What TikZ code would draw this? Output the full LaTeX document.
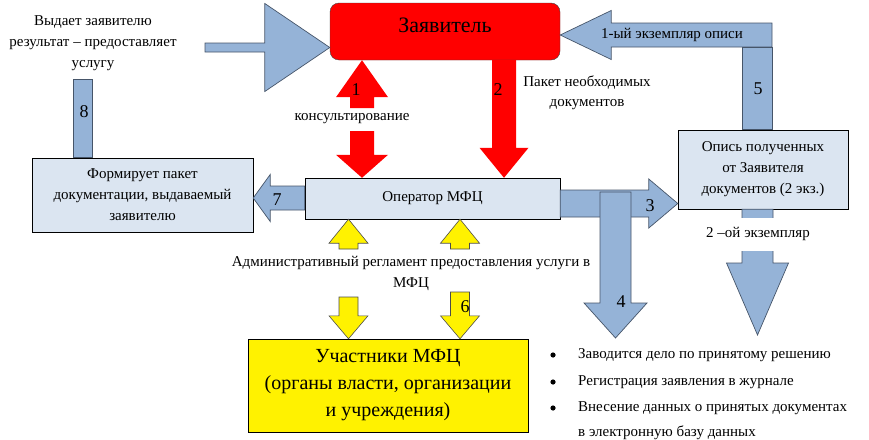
\documentclass[tikz,border=0pt]{standalone}
\usepackage{fontspec}
\setmainfont{Liberation Serif}
\usetikzlibrary{calc}
\definecolor{arrblue}{RGB}{149,179,215}
\definecolor{boxblue}{RGB}{219,229,241}
\definecolor{edgeblue}{RGB}{70,85,105}
\newcommand{\fsmall}{\fontsize{15}{21}\selectfont}
\newcommand{\fbig}{\fontsize{20}{27}\selectfont}
\newcommand{\fnum}{\fontsize{18}{20}\selectfont}
% block arrow: style, start, tip, shaft half width, head half width, head length
\newcommand{\blockarrow}[6][]{%
	\coordinate (ba-s) at (#2);
	\coordinate (ba-e) at (#3);
	\coordinate (ba-h) at ($(ba-e)!#6!(ba-s)$);
	\path[#1] ($(ba-s)!#4!90:(ba-e)$) -- ($(ba-h)!#4!-90:(ba-s)$)
		-- ($(ba-h)!#5!-90:(ba-s)$) -- (ba-e) -- ($(ba-h)!#5!90:(ba-s)$)
		-- ($(ba-h)!#4!90:(ba-s)$) -- ($(ba-s)!#4!-90:(ba-e)$) -- cycle;
}
\tikzset{
	blok/.style = {align=center, inner sep=0pt, font=\fsmall},
	blok_b/.style = {blok, rectangle, draw=black, fill=boxblue},% blok light blue
	blok_r/.style = {blok, rectangle, rounded corners=9pt, draw=black!75,
		fill=red, font=\fontsize{22}{26}\selectfont, text depth=13pt},% blok red
	blok_y/.style = {blok, rectangle, draw=black, fill=yellow, font=\fbig},% blok yellow
	strel_b/.style = {fill=arrblue, draw=edgeblue, line width=0.7pt},% strelka blue
	strel_r/.style = {fill=red},% strelka red
	strel_y/.style = {fill=yellow, draw=black!70, line width=0.6pt},% strelka yellow
	txt/.style = {align=center, inner sep=1pt, font=\fsmall},
	num/.style = {inner sep=0pt, font=\fnum}
}
\begin{document}
\begin{tikzpicture}[x=1pt, y=-1pt]
\useasboundingbox (0,0) rectangle (869,439);
% blocks
\node [blok_r, minimum width=230pt, minimum height=57pt] (zv) at (445,31.5) {Заявитель};
\node [blok_b, minimum width=255pt, minimum height=41pt] (op) at (432.5,198.5) {Оператор МФЦ};
\node [blok_b, minimum width=221pt, minimum height=74pt] (fp) at (142.5,195)
	{Формирует пакет\\документации, выдаваемый\\заявителю};
\node [blok_b, minimum width=170pt, minimum height=79pt] (opis) at (763,169.5)
	{Опись полученных\\от Заявителя\\документов (2 экз.)};
\node [blok_y, minimum width=280pt, minimum height=93pt] (uch) at (388,385.5)
	{Участники МФЦ\\(органы власти, организации\\и учреждения)};
% texts
\node [txt] (vyd) at (93,43) {Выдает заявителю\\результат – предоставляет\\услугу};
\node [txt] (kons) at (352,119) {консультирование};
\node [txt, font=\fontsize{15}{20}\selectfont] (paket) at (587,93) {Пакет необходимых\\документов};
\node [txt] (ekz1) at (672,35) {};
\node [txt] (adm) at (411,273) {Административный регламент предоставления услуги в\\МФЦ};
% arrows
\blockarrow[strel_b]{205,47.5}{zv.west |- 0,47.5}{4.5pt}{44pt}{65pt}
\draw [strel_b] (73,79) rectangle (92,0 |- fp.north);
\blockarrow[strel_b]{op.west |- 0,198}{fp.east |- 0,198}{12pt}{23.5pt}{17pt}
\blockarrow[strel_b]{772,0 |- ekz1}{zv.east |- ekz1}{12pt}{24.5pt}{51pt}
\draw [strel_b] (742,47) rectangle (772,0 |- opis.north);
\blockarrow[strel_b]{op.east |- 0,203.5}{opis.west |- 0,203.5}{13.5pt}{24.5pt}{29pt}
\blockarrow[strel_b]{615.5,192}{615.5,338}{15.5pt}{31.5pt}{35pt}
\blockarrow[strel_b]{757.5,0 |- opis.south}{757.5,335}{15.5pt}{31pt}{72pt}
\blockarrow[strel_r]{362,108}{362,0 |- zv.south}{12pt}{26pt}{37pt}
\blockarrow[strel_r]{362,131}{362,0 |- op.north}{12pt}{26pt}{23pt}
\blockarrow[strel_r]{504,0 |- zv.south}{504,0 |- op.north}{12pt}{24.5pt}{30pt}
\blockarrow[strel_y]{348.5,249}{348.5,0 |- op.south}{9.5pt}{19.5pt}{24pt}
\blockarrow[strel_y]{460,249}{460,0 |- op.south}{9.5pt}{19.5pt}{24pt}
\blockarrow[strel_y]{348.5,297}{348.5,0 |- uch.north}{9.5pt}{19.5pt}{23pt}
\blockarrow[strel_y]{460,292}{460,0 |- uch.north}{9.5pt}{19.5pt}{23pt}
% texts over arrows
\node [txt] at (ekz1) {1-ый экземпляр описи};
\node [txt, fill=white, minimum height=33pt] (ekz2) at (758,234) {2 –ой экземпляр};
% numbers
\node [num] (n1) at (356,90) {1};
\node [num] (n2) at (498,90) {2};
\node [num] (n3) at (650,206) {3};
\node [num] (n4) at (621,302) {4};
\node [num] (n5) at (758,89) {5};
\node [num] (n6) at (465,307) {6};
\node [num] (n7) at (277,200) {7};
\node [num] (n8) at (84,112) {8};
% list
\fill (553,355) circle (2.6pt);
\fill (553,382) circle (2.6pt);
\fill (553,408) circle (2.6pt);
\node [txt, anchor=west] (p1) at (577,355) {Заводится дело по принятому решению};
\node [txt, anchor=west] (p2) at (577,382) {Регистрация заявления в журнале};
\node [txt, anchor=west, align=left, font=\fontsize{15}{25}\selectfont] (p3) at (577,420.5)
	{Внесение данных о принятых документах\\в электронную базу данных};
\end{tikzpicture}
\end{document}
